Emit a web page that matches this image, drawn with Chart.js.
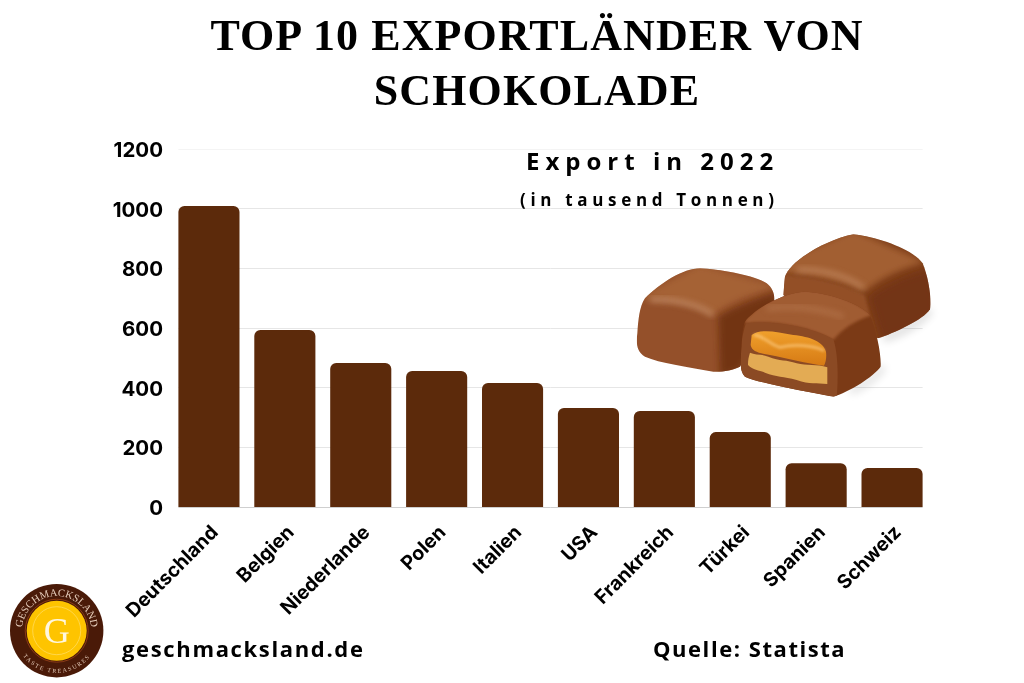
<!DOCTYPE html>
<html lang="de">
<head>
<meta charset="utf-8">
<title>Top 10 Exportländer von Schokolade</title>
<script src="https://cdn.jsdelivr.net/npm/chart.js@4"></script>
<style>
    html, body { margin: 0; padding: 0; background: #fff; }
    #stage { position: relative; width: 1024px; height: 683px; overflow: hidden; background: #fff; }
    #chart { position: absolute; left: 0; top: 0; }
    .txt { position: absolute; white-space: nowrap; color: #000; font-family: "Open Sans", sans-serif; font-weight: 700; line-height: 1; }
    .title { left: 0; width: 1074px; text-align: center; font-family: "Liberation Serif", serif; font-size: 44px; letter-spacing: 1.1px; }
    #art { position: absolute; left: 0; top: 0; }
</style>
</head>
<body>
<div id="stage">
    <canvas id="chart" width="1024" height="683"></canvas>

    <div class="txt title" style="top:14px">TOP 10 EXPORTLÄNDER VON</div>
    <div class="txt title" style="top:69px">SCHOKOLADE</div>
    <div class="txt" style="left:526px;top:149px;font-size:24px;letter-spacing:6px">Export in 2022</div>
    <div class="txt" style="left:520px;top:191px;font-size:17px;letter-spacing:4.67px">(in tausend Tonnen)</div>
    <div class="txt" style="left:122px;top:637px;font-size:22px;letter-spacing:1.65px">geschmacksland.de</div>
    <div class="txt" style="left:653px;top:637px;font-size:22px;letter-spacing:1.55px">Quelle: Statista</div>

    <svg id="art" width="1024" height="683" viewBox="0 0 1024 683">
        <defs>
            <linearGradient id="caramel" x1="0" y1="0" x2="0" y2="1">
                <stop offset="0" stop-color="#f0a02c"/>
                <stop offset="1" stop-color="#d67a14"/>
            </linearGradient>
            <filter id="soft" x="-30%" y="-30%" width="160%" height="160%"><feGaussianBlur stdDeviation="10"/></filter>
            <filter id="fine" x="-30%" y="-30%" width="160%" height="160%"><feGaussianBlur stdDeviation="4"/></filter>
            <filter id="shade" x="-50%" y="-50%" width="200%" height="200%"><feGaussianBlur stdDeviation="12"/></filter>
            <clipPath id="clipBack"><path d="M495 170 C510 125 610 62 700 43 C780 52 880 90 908 130 C925 170 936 240 930 268 C910 300 820 340 775 355 L600 300 L490 225 Z"/></clipPath>
            <clipPath id="clipLeft"><path d="M75 235 C120 190 190 145 240 145 C300 148 400 165 440 190 C465 210 466 235 460 260 L360 440 C340 450 300 458 280 455 C200 440 120 430 75 410 C50 395 48 370 52 340 C55 300 58 260 75 235 Z"/></clipPath>
            <clipPath id="clipFront"><path d="M375 305 C400 270 490 215 560 215 C630 220 720 250 750 285 C770 330 785 410 782 440 C760 470 690 515 640 530 C560 515 420 490 375 470 C360 455 360 430 365 380 C365 350 368 320 375 305 Z"/></clipPath>
            <path id="ringTop" d="M 24.3 642.5 A 34.5 34.5 0 1 1 89.1 642.5"/>
            <path id="ringBottom" d="M 14.5 630.7 A 42.2 42.2 0 0 0 98.9 630.7"/>
        </defs>

        <!-- pralines, drawn in zoomed crop units -->
        <g transform="translate(620 220) scale(0.3333)">
            <path d="M930 270 C900 310 840 340 790 355" fill="none" stroke="#000" stroke-width="22" opacity="0.14" filter="url(#shade)"/>
            <path d="M790 440 C770 470 730 500 690 515" fill="none" stroke="#000" stroke-width="20" opacity="0.12" filter="url(#shade)"/>

            <!-- back piece -->
            <g clip-path="url(#clipBack)">
                <rect x="480" y="30" width="470" height="340" fill="#7d3d18"/>
                <path d="M490 120 L700 30 L915 125 C830 150 770 180 735 215 C650 180 570 165 490 160 Z" fill="#a25f33" filter="url(#soft)"/>
                <path d="M490 165 C570 170 660 185 735 225 L770 360 L480 240 Z" fill="#934f25" filter="url(#fine)"/>
                <path d="M530 150 C590 145 680 165 730 205" fill="none" stroke="#c78f68" stroke-width="14" opacity="0.75" filter="url(#soft)"/>
                <path d="M750 230 C800 195 860 165 930 150 L950 280 L790 370 Z" fill="#6f3313" opacity="0.7" filter="url(#soft)"/>
            </g>

            <!-- left piece -->
            <g clip-path="url(#clipLeft)">
                <rect x="40" y="135" width="440" height="330" fill="#94502a"/>
                <path d="M60 230 L240 135 L470 200 C380 225 320 250 280 285 C220 250 150 235 60 235 Z" fill="#a56236" filter="url(#soft)"/>
                <path d="M90 240 C160 235 235 255 280 285" fill="none" stroke="#cd9a76" stroke-width="13" opacity="0.8" filter="url(#soft)"/>
                <path d="M295 290 C340 262 400 238 470 215 L470 270 L360 450 L300 470 Z" fill="#6b2f11" opacity="0.8" filter="url(#soft)"/>
            </g>

            <!-- front piece with cut face -->
            <g clip-path="url(#clipFront)">
                <rect x="355" y="205" width="440" height="335" fill="#7b3a16"/>
                <path d="M375 300 C430 240 500 210 560 210 C640 215 720 250 755 285 C700 305 670 325 640 360 C560 320 470 300 375 310 Z" fill="#a05c30" filter="url(#fine)"/>
                <path d="M440 265 C520 255 600 265 670 290" fill="none" stroke="#b97c52" stroke-width="14" opacity="0.7" filter="url(#soft)"/>
                <path d="M378 310 C450 300 580 320 640 358 C655 400 655 480 650 532 C560 517 430 495 360 470 C355 450 362 350 378 310 Z" fill="#8b4a24"/>
                <path d="M395 345 C420 325 470 335 520 345 C570 350 610 365 618 395 C620 410 618 425 612 437 C560 430 500 415 450 405 C420 400 395 395 392 375 Z" fill="url(#caramel)"/>
                <path d="M402 345 C435 348 450 375 480 382 C520 372 580 375 612 392" fill="none" stroke="#ffd08a" stroke-width="7" opacity="0.8" filter="url(#fine)"/>
                <path d="M390 398 C405 405 425 402 445 410 C480 425 500 418 530 430 C560 437 590 432 622 442 L622 492 C590 488 570 494 530 480 C490 468 470 472 435 458 C420 450 400 452 384 435 C384 420 386 410 390 398 Z" fill="#e3ab54"/>
            </g>
        </g>

        <!-- logo -->
        <circle cx="56.7" cy="630.7" r="46.7" fill="#4a1a08"/>
        <circle cx="56.7" cy="630.7" r="31.5" fill="none" stroke="#8a3a16" stroke-width="1"/>
        <circle cx="56.7" cy="630.7" r="30" fill="#fec400"/>
        <circle cx="56.7" cy="630.7" r="24" fill="none" stroke="#ffe27a" stroke-width="0.6"/>
        <text x="56.7" y="643" text-anchor="middle" font-family="Liberation Serif" font-size="36" fill="#fff7df">G</text>
        <text font-family="Liberation Serif" font-size="10.6" fill="#e6cdbb">
            <textPath href="#ringTop" startOffset="50%" text-anchor="middle">GESCHMACKSLAND</textPath>
        </text>
        <text font-family="Liberation Serif" font-size="6" letter-spacing="1.6" fill="#e6cdbb">
            <textPath href="#ringBottom" startOffset="50%" text-anchor="middle">TASTE TREASURES</textPath>
        </text>
    </svg>
</div>

<script>
// Export in 2022, in thousand tonnes
const countries = ['Deutschland', 'Belgien', 'Niederlande', 'Polen', 'Italien', 'USA', 'Frankreich', 'Türkei', 'Spanien', 'Schweiz'];
const exportTonnes = [1009, 593, 483, 456, 416, 332, 322, 251, 147, 131];
const yTicks = [0, 200, 400, 600, 800, 1000, 1200];

// Gridlines only span the bars, not the whole category band
const barGrid = {
    id: 'barGrid',
    beforeDatasetsDraw(chart) {
        const ctx = chart.ctx;
        const bars = chart.getDatasetMeta(0).data;
        const left = bars[0].x - bars[0].width / 2;
        const last = bars[bars.length - 1];
        const right = last.x + last.width / 2;
        ctx.save();
        ctx.lineWidth = 1;
        yTicks.forEach(value => {
            const y = Math.floor(chart.scales.y.getPixelForValue(value)) + 0.5;
            ctx.strokeStyle = value === 1200 ? '#f4f4f4' : value === 0 ? '#cfcfcf' : '#e6e6e6';
            ctx.beginPath();
            ctx.moveTo(left, y);
            ctx.lineTo(right, y);
            ctx.stroke();
        });
        ctx.restore();
    }
};

new Chart(document.getElementById('chart'), {
    type: 'bar',
    data: {
        labels: countries,
        datasets: [{
            data: exportTonnes,
            backgroundColor: '#5c2a0b',
            borderRadius: { topLeft: 6, topRight: 6 },
            borderSkipped: false,
            categoryPercentage: 1,
            barPercentage: 0.805
        }]
    },
    options: {
        responsive: false,
        animation: false,
        layout: { padding: { top: 149, right: 94, left: 0, bottom: 0 } },
        plugins: { legend: { display: false }, tooltip: { enabled: false } },
        scales: {
            x: {
                grid: { display: false },
                border: { display: false },
                afterFit(scale) { scale.height = 176; },
                ticks: {
                    color: '#000',
                    font: { family: 'Inter', size: 19.5, weight: '700' },
                    minRotation: 45,
                    maxRotation: 45,
                    padding: 6,
                    labelOffset: 6
                }
            },
            y: {
                min: 0,
                max: 1200,
                grid: { display: false },
                border: { display: false },
                afterFit(scale) { scale.width = 171; },
                afterBuildTicks(scale) { scale.ticks = yTicks.map(value => ({ value })); },
                ticks: {
                    color: '#000',
                    font: { family: 'Inter', size: 20.5, weight: '700' },
                    padding: 0,
                    labelOffset: 2,
                    callback: value => String(value)
                }
            }
        }
    },
    plugins: [barGrid]
});
</script>
</body>
</html>
